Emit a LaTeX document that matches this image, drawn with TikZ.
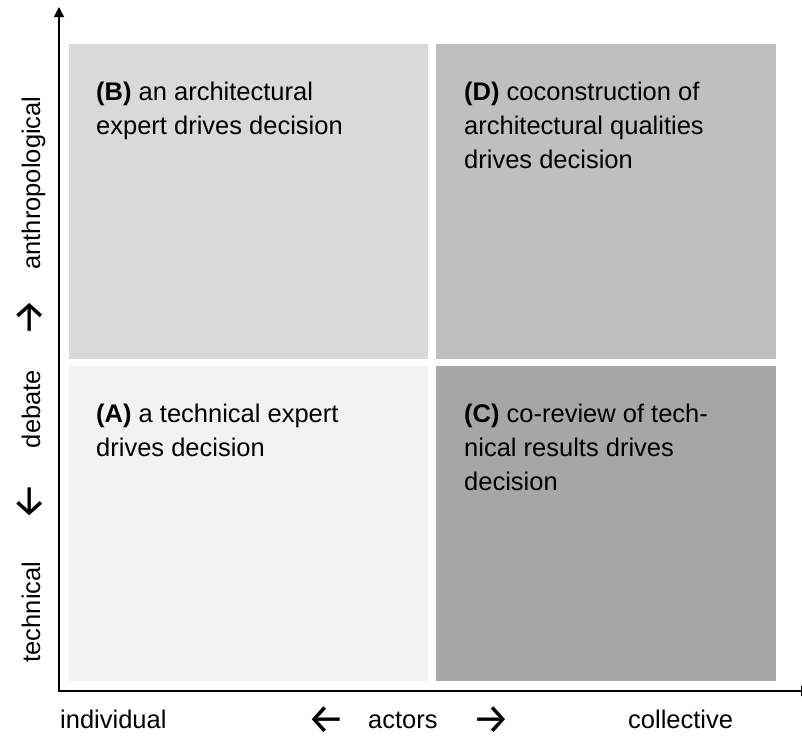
\documentclass[tikz,border=0pt]{standalone}
\usepackage{fontspec}
\setmainfont{Liberation Sans}
\newfontfamily\arrowfont{Fira Sans}
\usetikzlibrary{
  calc,positioning,
  arrows,arrows.meta
}
\definecolor{quadA}{HTML}{F2F2F2}
\definecolor{quadB}{HTML}{D9D9D9}
\definecolor{quadC}{HTML}{A6A6A6}
\definecolor{quadD}{HTML}{BFBFBF}

\begin{document}
\begin{tikzpicture}[x=1pt,y=-1pt,
  quadtext/.style={anchor=base west,inner sep=0pt,align=left,
    font=\fontsize{25.5}{34}\selectfont},
  axislabel/.style={anchor=base west,inner sep=0pt,
    font=\fontsize{25.5}{34}\selectfont},
  arrowlabel/.style={anchor=center,inner sep=0pt,
    font=\arrowfont\fontsize{42}{44}\selectfont},
  sidelabel/.style={rotate=90,anchor=base,inner sep=0pt,
    font=\fontsize{25.5}{34}\selectfont},
  sidearrow/.style={rotate=90,anchor=center,inner sep=0pt,
    font=\arrowfont\fontsize{42}{44}\selectfont},
  axisline/.style={line width=1.5pt,-{Triangle[width=10pt,length=10pt]}}
]
\useasboundingbox (0,0) rectangle (802,736);
\clip (0,0) rectangle (802,736);

% quadrants
\fill[quadB] (69,44) rectangle (428,359);
\fill[quadD] (436,44) rectangle (776,359);
\fill[quadA] (69,366) rectangle (428,681);
\fill[quadC] (436,366) rectangle (776,681);

% (base anchor sits on the last line)
\node[quadtext] (textB) at (96,134) {\textbf{(B)} an architectural\\expert drives decision};
\node[quadtext] (textD) at (464,168) {\textbf{(D)} coconstruction of\\architectural qualities\\drives decision};
\node[quadtext] (textA) at (96,456) {\textbf{(A)} a technical expert\\drives decision};
\node[quadtext] (textC) at (464,490) {\textbf{(C)} co-review of tech-\\nical results drives\\decision};

% axes
\coordinate (origin) at (59,691);
\coordinate (ytop) at (59,7);
\coordinate (xend) at (811,691);
\draw[axisline] ($(origin)+(-1,0)$) -- (xend);
\draw[axisline] (origin) -- (ytop);

% horizontal labels
\node[axislabel] (indiv) at (60,728) {individual};
\node[arrowlabel] (larrow) at (326,733) {\smash{←}};
\node[axislabel] (actors) at (368,728) {actors};
\node[arrowlabel] (rarrow) at (491,733) {\smash{→}};
\node[axislabel] (collect) at (628,728) {collective};

% vertical labels
\node[sidelabel] (anthro) at (40,183) {anthropological};
\node[sidearrow] (uarrow) at (43,318) {\smash{→}};
\node[sidelabel] (debate) at (40,409) {debate};
\node[sidearrow] (darrow) at (43,502) {\smash{←}};
\node[sidelabel] (techn) at (40,612) {technical};
\end{tikzpicture}
\end{document}
